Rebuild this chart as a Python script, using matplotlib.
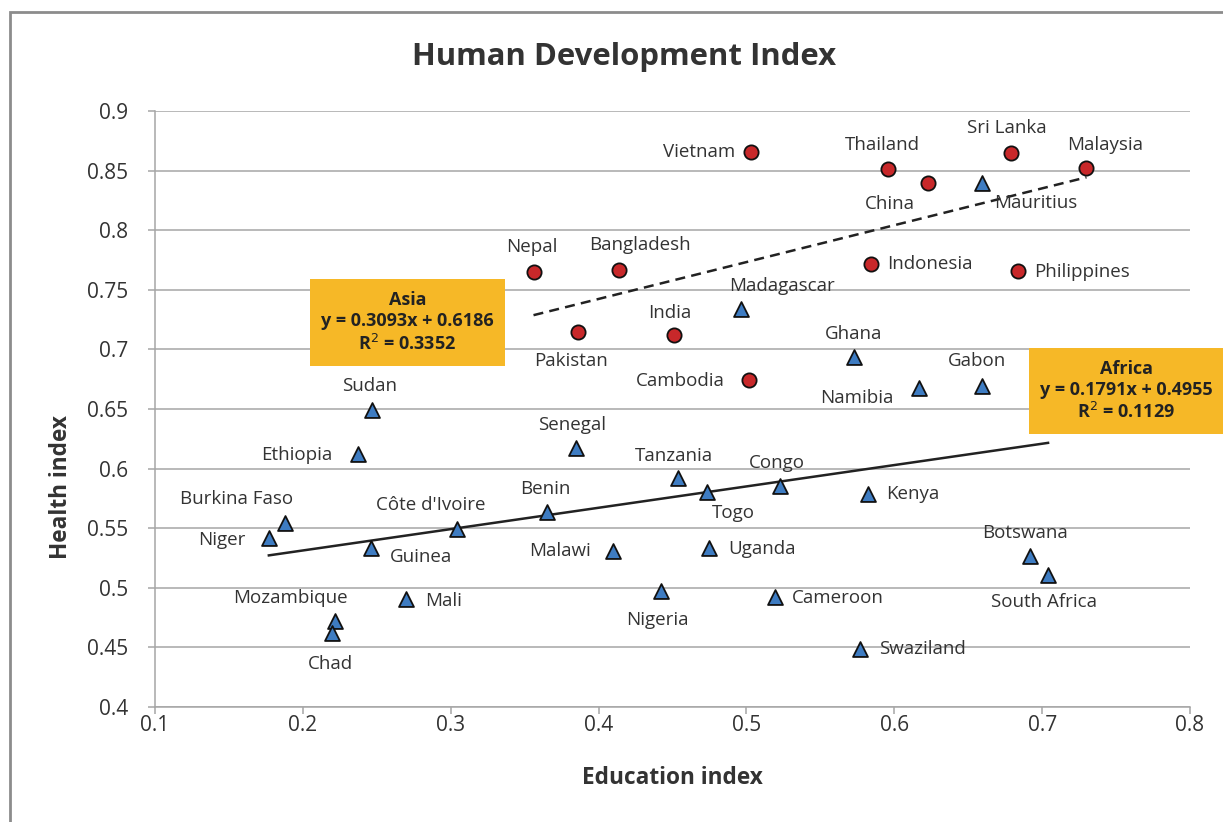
import matplotlib
matplotlib.use("Agg")
import matplotlib.pyplot as plt
from matplotlib.patches import Rectangle
import numpy as np

plt.rcParams['font.family'] = ['Open Sans', 'DejaVu Sans']

# ---- data ----
asia_countries = ["Vietnam", "Thailand", "China", "Sri Lanka", "Malaysia", "Indonesia",
                  "Philippines", "Nepal", "Bangladesh", "Pakistan", "India", "Cambodia"]
asia_edu = [0.503, 0.596, 0.623, 0.679, 0.730, 0.584, 0.684, 0.356, 0.414, 0.386, 0.451, 0.502]
asia_health = [0.866, 0.851, 0.840, 0.865, 0.852, 0.772, 0.766, 0.765, 0.767, 0.715, 0.712, 0.674]

africa_countries = ["Mauritius", "Madagascar", "Ghana", "Namibia", "Gabon", "Sudan", "Ethiopia",
                    "Senegal", "Tanzania", "Togo", "Congo", "Kenya", "Benin", "Côte d'Ivoire",
                    "Burkina Faso", "Niger", "Guinea", "Malawi", "Uganda", "Botswana",
                    "South Africa", "Nigeria", "Mali", "Cameroon", "Mozambique", "Chad", "Swaziland"]
africa_edu = [0.659, 0.496, 0.573, 0.617, 0.659, 0.247, 0.237, 0.385, 0.454, 0.473, 0.523, 0.582,
              0.365, 0.304, 0.188, 0.177, 0.246, 0.410, 0.475, 0.692, 0.704, 0.442, 0.270, 0.519,
              0.222, 0.220, 0.577]
africa_health = [0.840, 0.734, 0.694, 0.668, 0.669, 0.649, 0.612, 0.617, 0.592, 0.580, 0.585, 0.579,
                 0.564, 0.549, 0.554, 0.542, 0.533, 0.531, 0.533, 0.527, 0.511, 0.497, 0.491, 0.492,
                 0.472, 0.462, 0.449]

asia_fit = (0.3093, 0.6186, 0.3352)
africa_fit = (0.1791, 0.4955, 0.1129)

x_ticks = [0.1, 0.2, 0.3, 0.4, 0.5, 0.6, 0.7, 0.8]
y_ticks = [0.4, 0.45, 0.5, 0.55, 0.6, 0.65, 0.7, 0.75, 0.8, 0.85, 0.9]

# ---- label placement (pixel offsets, alignment) ----
asia_lab = {
    "Vietnam": (-16, 0, 'right', 'center'),
    "Thailand": (-6, 24, 'center', 'center'),
    "China": (-38, -21, 'center', 'center'),
    "Sri Lanka": (-4, 25, 'center', 'center'),
    "Malaysia": (19, 23, 'center', 'center'),
    "Indonesia": (16, 0, 'left', 'center'),
    "Philippines": (16, -1, 'left', 'center'),
    "Nepal": (-2, 25, 'center', 'center'),
    "Bangladesh": (21, 25, 'center', 'center'),
    "Pakistan": (-7, -29, 'center', 'center'),
    "India": (-4, 22, 'center', 'center'),
    "Cambodia": (-25, -1, 'right', 'center'),
}
africa_lab = {
    "Mauritius": (54, -20, 'center', 'center'),
    "Madagascar": (41, 23, 'center', 'center'),
    "Ghana": (-1, 23, 'center', 'center'),
    "Namibia": (-26, -10, 'right', 'center'),
    "Gabon": (-5, 25, 'center', 'center'),
    "Sudan": (-3, 24, 'center', 'center'),
    "Ethiopia": (-25, -1, 'right', 'center'),
    "Senegal": (-4, 23, 'center', 'center'),
    "Tanzania": (-4, 22, 'center', 'center'),
    "Togo": (27, -21, 'center', 'center'),
    "Congo": (-4, 23, 'center', 'center'),
    "Kenya": (18, 0, 'left', 'center'),
    "Benin": (-2, 23, 'center', 'center'),
    "Côte d'Ivoire": (-26, 24, 'center', 'center'),
    "Burkina Faso": (-49, 24, 'center', 'center'),
    "Niger": (-23, -2, 'right', 'center'),
    "Guinea": (19, -9, 'left', 'center'),
    "Malawi": (-22, 0, 'right', 'center'),
    "Uganda": (19, -1, 'left', 'center'),
    "Botswana": (-5, 23, 'center', 'center'),
    "South Africa": (-4, -27, 'center', 'center'),
    "Nigeria": (-3, -29, 'center', 'center'),
    "Mali": (19, -2, 'left', 'center'),
    "Cameroon": (17, -1, 'left', 'center'),
    "Mozambique": (-45, 23, 'center', 'center'),
    "Chad": (-2, -31, 'center', 'center'),
    "Swaziland": (19, 0, 'left', 'center'),
}

W, H = 1223, 822
fig = plt.figure(figsize=(W / 100, H / 100), dpi=100)
ax = fig.add_axes([155 / W, (H - 707) / H, (1190 - 155) / W, (707 - 111) / H])

grid_c = '#A6A6A6'
txt_c = '#333333'
ax.set_xlim(0.1, 0.8)
ax.set_ylim(0.4, 0.9)
ax.set_xticks(x_ticks)
ax.set_yticks(y_ticks)
ax.set_xticklabels([f"{v:g}" for v in x_ticks])
ax.set_yticklabels([f"{v:g}" for v in y_ticks])
ax.yaxis.grid(True, color=grid_c, linewidth=1.1)
ax.set_axisbelow(True)
for s in ['top', 'right']:
    ax.spines[s].set_visible(False)
for s in ['left', 'bottom']:
    ax.spines[s].set_color(grid_c)
    ax.spines[s].set_linewidth(1.1)
ax.tick_params(axis='both', colors=grid_c, length=5, width=1.1, labelsize=15,
               labelcolor=txt_c)
ax.tick_params(axis='y', pad=14)
ax.tick_params(axis='x', pad=1)

# trend lines
xa = np.array([min(asia_edu), max(asia_edu)])
ax.plot(xa, asia_fit[0] * xa + asia_fit[1], color='#222222', lw=1.8, ls=(0, (4, 2.5)), zorder=2)
xf = np.array([min(africa_edu), max(africa_edu)])
ax.plot(xf, africa_fit[0] * xf + africa_fit[1], color='#222222', lw=1.8, zorder=2)

ax.scatter(asia_edu, asia_health, s=105, marker='o', facecolor='#C8282A', edgecolor='#111111',
           linewidth=1.3, zorder=3)
ax.scatter(africa_edu, africa_health, s=115, marker='^', facecolor='#3E7CC2', edgecolor='#111111',
           linewidth=1.3, zorder=3)

for names, xs, ys, lab in [(asia_countries, asia_edu, asia_health, asia_lab),
                           (africa_countries, africa_edu, africa_health, africa_lab)]:
    for n, x, y in zip(names, xs, ys):
        dx, dy, ha, va = lab[n]
        ax.annotate(n, (x, y), xytext=(dx, dy), textcoords='offset pixels', ha=ha, va=va,
                    fontsize=13.5, color=txt_c, zorder=4)

fig.text(672 / W, 1 - 778 / H, "Education index", ha='center', va='center',
         fontsize=16.3, fontweight='bold', color=txt_c)
fig.text(61 / W, 1 - 487 / H, "Health index", rotation=90, ha='center', va='center',
         fontsize=16.3, fontweight='bold', color=txt_c)
fig.text(624 / W, 1 - 57 / H, "Human Development Index", ha='center', va='center',
         fontsize=22.4, fontweight='bold', color=txt_c)

# equation boxes
box_c = '#F6B827'
def eq_box(x0, y0, x1, y1, title, fit):
    fig.patches.append(Rectangle((x0 / W, 1 - y1 / H), (x1 - x0) / W, (y1 - y0) / H,
                                 transform=fig.transFigure, facecolor=box_c, edgecolor='none',
                                 zorder=5))
    cx = (x0 + x1) / 2
    txt = f"{title}\ny = {fit[0]:.4f}x + {fit[1]:.4f}\nR$^2$ = {fit[2]:.4f}"
    fig.text(cx / W, 1 - (y0 + y1) / 2 / H, txt, ha='center', va='center', fontsize=13,
             fontweight='bold', color='#222222', linespacing=1.2, zorder=6)

eq_box(310, 279, 505, 366, "Asia", asia_fit)
eq_box(1029, 348, 1223, 434, "Africa", africa_fit)

# outer chart border
fig.patches.append(Rectangle((10 / W, -0.1), 1.2, 1.1 - 12 / H, transform=fig.transFigure,
                             facecolor='none', edgecolor='#8C8C8C', linewidth=2, zorder=0))

fig.savefig("out.png", dpi=100)
